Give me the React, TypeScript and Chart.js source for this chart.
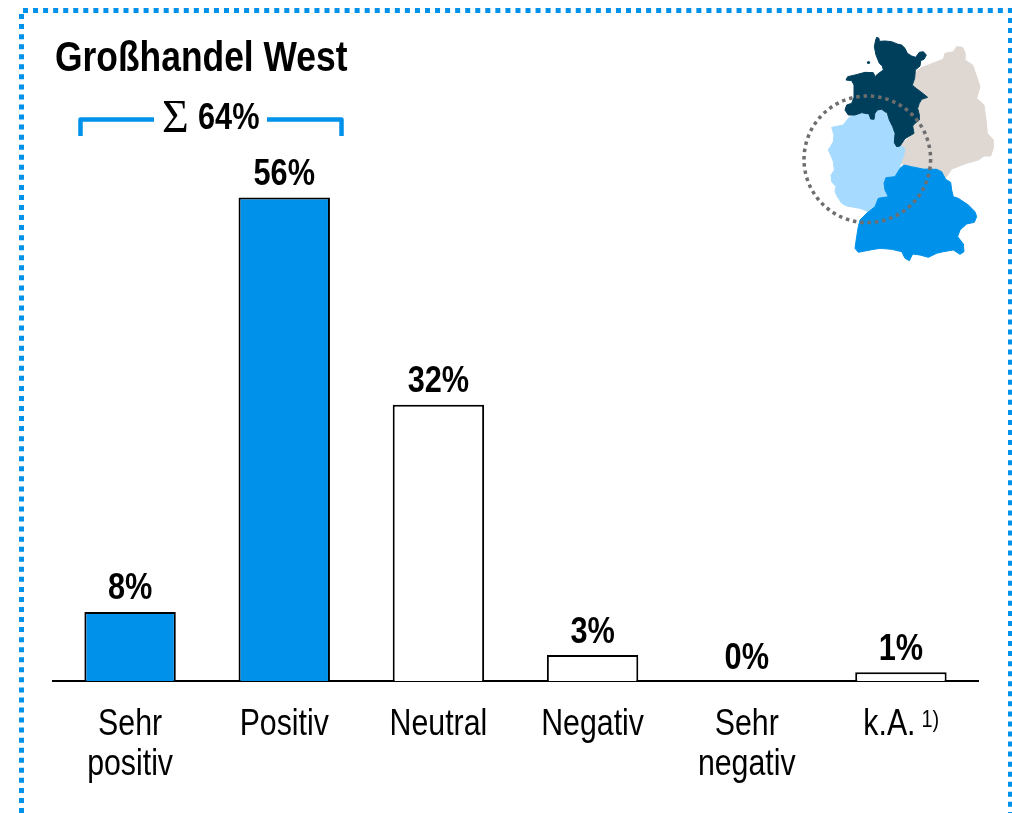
import React, { useEffect, useRef } from "react";
import { Chart, registerables } from "chart.js";

Chart.register(...registerables);

const categories: (string | string[])[] = [["Sehr", "positiv"], "Positiv", "Neutral", "Negativ", ["Sehr", "negativ"], "k.A."];
const values = [8, 56, 32, 3, 0, 1];
const highlighted = [true, true, false, false, false, false];
const titleText = "Großhandel West";
const sumText = "64%";
const footnoteMark = "1)";

const BLUE = "#0091EA";
const NAVY = "#003F5C";
const FONT = '"Liberation Sans", Arial, sans-serif';
const CONDENSE = 0.83;

type Pt = [number, number];
const navy: Pt[] = [[290,52],[297,55],[298,64],[315,63],[335,65],[352,72],[365,75],[375,85],[382,100],[395,108],[407,112],[418,97],[430,95],[439,105],[432,118],[422,122],[420,138],[406,150],[404,175],[397,195],[408,205],[422,215],[443,232],[425,238],[418,250],[413,265],[418,285],[418,300],[405,310],[398,318],[402,340],[385,350],[375,356],[360,378],[350,380],[343,368],[345,340],[338,320],[328,300],[322,280],[305,268],[292,270],[285,280],[282,298],[272,297],[267,282],[245,278],[225,285],[205,285],[195,270],[200,255],[215,250],[222,232],[222,195],[215,182],[198,180],[203,170],[225,165],[255,157],[280,158],[285,170],[293,162],[310,150],[307,138],[298,130],[288,105],[283,80],[287,60]];
const lightBlue: Pt[] = [[205,295],[215,288],[235,280],[265,282],[272,298],[285,296],[290,272],[305,268],[322,285],[340,330],[345,370],[362,378],[375,385],[370,410],[362,430],[358,445],[345,470],[318,473],[312,490],[315,510],[325,530],[295,535],[288,555],[265,575],[240,565],[200,558],[185,550],[172,530],[165,515],[168,500],[155,485],[153,465],[163,450],[160,425],[152,405],[145,390],[160,365],[162,345],[155,322],[190,315]];
const beige: Pt[] = [[405,160],[420,145],[445,135],[470,125],[490,118],[495,100],[520,95],[530,80],[548,82],[556,100],[555,120],[578,135],[585,155],[600,200],[590,235],[612,255],[618,300],[622,340],[640,360],[640,385],[632,408],[612,408],[595,420],[560,430],[515,447],[500,470],[493,475],[480,450],[440,445],[380,435],[360,430],[375,385],[362,375],[402,340],[400,315],[418,300],[415,265],[425,240],[443,232],[420,215],[400,195]];
const blueRegion: Pt[] = [[360,445],[372,435],[395,440],[430,447],[470,448],[485,455],[497,478],[512,487],[515,510],[520,530],[535,535],[565,555],[585,575],[590,590],[583,607],[560,612],[540,630],[533,650],[550,672],[552,695],[540,703],[520,690],[490,695],[470,700],[445,712],[420,705],[398,702],[388,722],[375,715],[365,695],[335,688],[300,685],[270,690],[235,697],[225,685],[230,650],[235,620],[240,600],[262,578],[285,560],[295,535],[325,530],[315,510],[312,490],[318,473],[345,470]];

function fillPoly(ctx: CanvasRenderingContext2D, pts: Pt[], color: string) {
  ctx.fillStyle = color;
  ctx.strokeStyle = color;
  ctx.lineWidth = 1;
  ctx.lineJoin = "round";
  ctx.beginPath();
  pts.forEach(([x, y], i) => {
    const px = 780 + x / 3;
    const py = 20 + y / 3;
    if (i === 0) ctx.moveTo(px, py);
    else ctx.lineTo(px, py);
  });
  ctx.closePath();
  ctx.fill();
  ctx.stroke();
}

function narrowText(ctx: CanvasRenderingContext2D, text: string, x: number, y: number, font: string, align: CanvasTextAlign, sx = CONDENSE) {
  ctx.save();
  ctx.translate(x, y);
  ctx.scale(sx, 1);
  ctx.font = font;
  ctx.textAlign = align;
  ctx.textBaseline = "alphabetic";
  ctx.fillStyle = "#000000";
  ctx.fillText(text, 0, 0);
  ctx.restore();
}

const decorations = {
  id: "decorations",
  afterDraw(chart: any) {
    const ctx: CanvasRenderingContext2D = chart.ctx;
    ctx.save();
    // dotted frame
    ctx.strokeStyle = BLUE;
    ctx.lineWidth = 5;
    ctx.setLineDash([5, 5.05]);
    ctx.beginPath();
    ctx.moveTo(21.5, 813);
    ctx.lineTo(21.5, 10.5);
    ctx.lineTo(1010.5, 10.5);
    ctx.lineTo(1010.5, 813);
    ctx.stroke();
    ctx.setLineDash([]);

    // map
    fillPoly(ctx, beige, "#DFD7D1");
    fillPoly(ctx, lightBlue, "#A6DBFF");
    fillPoly(ctx, navy, NAVY);
    fillPoly(ctx, blueRegion, BLUE);
    ctx.fillStyle = NAVY;
    ctx.beginPath();
    ctx.arc(868.5, 62.5, 1.6, 0, Math.PI * 2);
    ctx.fill();
    ctx.strokeStyle = "#6E6E6E";
    ctx.lineWidth = 3.5;
    ctx.setLineDash([3.5, 3.85]);
    ctx.beginPath();
    ctx.arc(867.3, 159.3, 63.3, 0, Math.PI * 2);
    ctx.stroke();
    ctx.setLineDash([]);

    // title
    narrowText(ctx, titleText, 55, 71, `bold 42.5px ${FONT}`, "left", 0.833);

    // bracket
    ctx.strokeStyle = BLUE;
    ctx.lineWidth = 4.5;
    ctx.lineCap = "butt";
    ctx.beginPath();
    ctx.moveTo(80.5, 136);
    ctx.lineTo(80.5, 119.5);
    ctx.lineTo(154, 119.5);
    ctx.moveTo(267, 119.5);
    ctx.lineTo(341.5, 119.5);
    ctx.lineTo(341.5, 136);
    ctx.stroke();
    narrowText(ctx, "Σ", 162, 132, `46px "Liberation Serif", serif`, "left", 1);
    narrowText(ctx, sumText, 198, 129, `bold 37px ${FONT}`, "left");

    // value labels
    const meta = chart.getDatasetMeta(0);
    meta.data.forEach((bar: any, i: number) => {
      narrowText(ctx, `${values[i]}%`, bar.x, bar.y - 12.5, `bold 37px ${FONT}`, "center");
    });

    // category labels, placed through the x scale
    const xScale = chart.scales.x;
    categories.forEach((cat, i) => {
      const lines = Array.isArray(cat) ? cat : [cat];
      const x = xScale.getPixelForValue(i) - (cat === "k.A." ? 11.5 : 0);
      lines.forEach((line, j) => {
        narrowText(ctx, line, x, 735 + j * 40, `36.5px ${FONT}`, "center");
      });
    });

    // footnote marker
    narrowText(ctx, footnoteMark, 921.5, 727, `24px ${FONT}`, "left");
    ctx.restore();
  },
};

export default function App() {
  const ref = useRef<HTMLCanvasElement>(null);
  useEffect(() => {
    if (!ref.current) return;
    const chart = new Chart(ref.current, {
      type: "bar",
      data: {
        labels: categories as any,
        datasets: [
          {
            data: values,
            backgroundColor: highlighted.map((h) => (h ? BLUE : "#FFFFFF")),
            borderColor: "#000000",
            borderWidth: 2,
            categoryPercentage: 1,
            barPercentage: 0.593,
          },
        ],
      },
      plugins: [decorations],
      options: {
        responsive: false,
        devicePixelRatio: 1,
        animation: false,
        layout: { padding: { top: 163, left: 53, right: 34, bottom: 0 } },
        plugins: { legend: { display: false }, title: { display: false }, tooltip: { enabled: false } },
        scales: {
          x: {
            afterFit: (s: any) => {
              s.height = 132;
            },
            grid: { display: false },
            border: { display: true, color: "#000000", width: 2 },
            ticks: { display: false },
          },
          y: { display: false, min: 0, max: 60 },
        },
      },
    } as any);
    return () => chart.destroy();
  }, []);
  return (
    <div style={{ position: "absolute", left: 0, top: 0, width: 1012, height: 813, background: "#fff", overflow: "hidden" }}>
      <canvas ref={ref} width={1012} height={813} style={{ display: "block" }} />
    </div>
  );
}
